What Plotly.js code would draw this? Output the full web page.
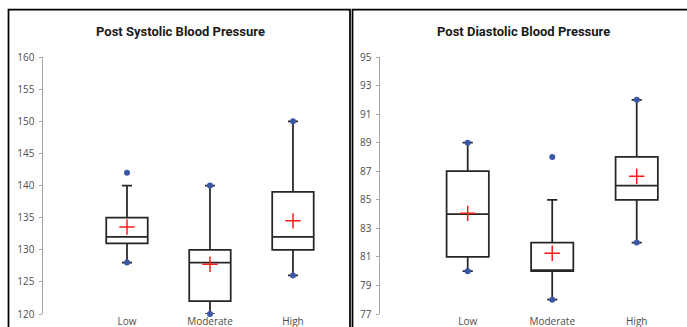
<!DOCTYPE html>
<html>
<head>
<meta charset="utf-8">
<script src="https://cdn.plot.ly/plotly-3.0.1.min.js"></script>
<style>html,body{margin:0;padding:0;background:#fff;}#chart{width:687px;height:327px;}</style>
</head>
<body>
<div id="chart"></div>
<script>
// ---- data ----
const categories = ['Low', 'Moderate', 'High'];

// Post Systolic
const sysQ1 = [131, 122, 130];
const sysMedian = [132, 128, 132];
const sysQ3 = [135, 130, 139];
const sysLowerWhisker = [128, 120, 126];
const sysUpperWhisker = [140, 140, 150];
const sysMean = [133.55, 127.75, 134.5];
const sysPointCats = ['Low', 'Low', 'Moderate', 'Moderate', 'High', 'High'];
const sysPointVals = [142, 128, 140, 120, 150, 126];
const sysTicks = [120, 125, 130, 135, 140, 145, 150, 155, 160];

// Post Diastolic
const diaQ1 = [81, 80, 85];
const diaMedian = [84, 80, 86];
const diaQ3 = [87, 82, 88];
const diaLowerWhisker = [80, 78, 82];
const diaUpperWhisker = [89, 85, 92];
const diaMean = [84.05, 81.25, 86.65];
const diaPointCats = ['Low', 'Low', 'Moderate', 'Moderate', 'High', 'High'];
const diaPointVals = [89, 80, 88, 78, 92, 82];
const diaTicks = [77, 79, 81, 83, 85, 87, 89, 91, 93, 95];

const titles = ['Post Systolic Blood Pressure', 'Post Diastolic Blood Pressure'];

// ---- styling ----
const W = 687, H = 327;
const px = v => v / W;
const py = v => 1 - v / H;
const boxLine = '#262626';
const blue = '#3b58a8';
const red = '#ff1a1a';
const tickFont = {family: 'Open Sans, Liberation Sans, sans-serif', size: 10, color: '#4d4d4d'};

function boxTrace(q1, med, q3, lo, hi, xa, ya) {
  return {
    type: 'box', x: categories, q1: q1, median: med, q3: q3,
    lowerfence: lo, upperfence: hi, boxpoints: false,
    width: 0.5, whiskerwidth: 0.24,
    fillcolor: '#ffffff', line: {color: boxLine, width: 1.75},
    xaxis: xa, yaxis: ya, hoverinfo: 'skip', showlegend: false
  };
}
function ptsTrace(xs, ys, xa, ya) {
  return {
    type: 'scatter', mode: 'markers', x: xs, y: ys, xaxis: xa, yaxis: ya,
    marker: {color: blue, size: 6, symbol: 'circle'}, showlegend: false, cliponaxis: false
  };
}
function meanTrace(ys, xa, ya) {
  return {
    type: 'scatter', mode: 'markers', x: categories, y: ys, xaxis: xa, yaxis: ya,
    marker: {symbol: 'cross-thin-open', size: 11, line: {color: red, width: 1.5}, color: red},
    showlegend: false, cliponaxis: false
  };
}

const data = [
  boxTrace(sysQ1, sysMedian, sysQ3, sysLowerWhisker, sysUpperWhisker, 'x', 'y'),
  ptsTrace(sysPointCats, sysPointVals, 'x', 'y'),
  meanTrace(sysMean, 'x', 'y'),
  boxTrace(diaQ1, diaMedian, diaQ3, diaLowerWhisker, diaUpperWhisker, 'x2', 'y2'),
  ptsTrace(diaPointCats, diaPointVals, 'x2', 'y2'),
  meanTrace(diaMean, 'x2', 'y2')
];

const yDom = [py(314), py(57)];
function yAx(range, ticks, anchor, overlay) {
  const a = {
    domain: yDom, range: range, autorange: false, anchor: anchor,
    tickmode: 'array', tickvals: ticks,
    showgrid: false, zeroline: false, fixedrange: true
  };
  if (overlay) {
    Object.assign(a, {overlaying: overlay, ticks: 'inside', ticklen: 3, tickwidth: 1, tickcolor: '#a6a6a6',
      showticklabels: false, showline: false, side: 'left'});
  } else {
    Object.assign(a, {ticks: 'outside', ticklen: 3, tickwidth: 1, tickcolor: '#a6a6a6',
      showline: true, linecolor: '#a6a6a6', linewidth: 1.5, tickfont: tickFont, ticklabelstandoff: 2});
  }
  return a;
}
function xAx(domain, range, anchor) {
  return {
    domain: domain, range: range, autorange: false, anchor: anchor, type: 'category',
    categoryorder: 'array', categoryarray: categories,
    showline: false, showgrid: false, zeroline: false, ticks: '', tickfont: tickFont, fixedrange: true
  };
}

const border = {color: '#000000', width: 1.75};
const titleFont = {family: 'Roboto, Open Sans, sans-serif', size: 13, color: '#1a1a1a'};
const layout = {
  width: W, height: H, margin: {l: 0, r: 0, t: 0, b: 0},
  paper_bgcolor: '#ffffff', plot_bgcolor: 'rgba(0,0,0,0)', showlegend: false,
  xaxis: xAx([px(43), px(345)], [-1.012, 2.627], 'y'),
  yaxis: yAx([120, 160], sysTicks, 'x'),
  yaxis3: yAx([120, 160], sysTicks, 'x', 'y'),
  xaxis2: xAx([px(380), 1], [-1.038, 2.595], 'y2'),
  yaxis2: yAx([77, 95], diaTicks, 'x2'),
  yaxis4: yAx([77, 95], diaTicks, 'x2', 'y2'),
  annotations: [
    {text: '<b>' + titles[0] + '</b>', xref: 'paper', yref: 'paper', x: px(180), y: py(31),
     xanchor: 'center', yanchor: 'middle', showarrow: false, font: titleFont},
    {text: '<b>' + titles[1] + '</b>', xref: 'paper', yref: 'paper', x: px(523), y: py(31),
     xanchor: 'center', yanchor: 'middle', showarrow: false, font: titleFont}
  ],
  shapes: [
    {type: 'rect', xref: 'paper', yref: 'paper', x0: px(8.5), x1: px(350), y0: py(345), y1: py(9.5), line: border, fillcolor: 'rgba(0,0,0,0)'},
    {type: 'rect', xref: 'paper', yref: 'paper', x0: px(352.5), x1: px(700), y0: py(345), y1: py(9.5), line: border, fillcolor: 'rgba(0,0,0,0)'}
  ]
};

Plotly.newPlot('chart', data, layout, {staticPlot: true, displayModeBar: false});
</script>
</body>
</html>
